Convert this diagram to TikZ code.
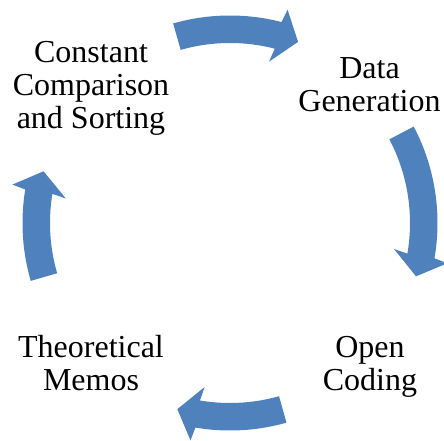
\documentclass[tikz,border=0pt]{standalone}
\usepackage{fontspec}
\setmainfont{Liberation Serif}
\definecolor{arrowblue}{RGB}{79,129,189}
\begin{document}
\begin{tikzpicture}[x=1pt,y=1pt,
  lbl/.style={align=center,inner sep=0pt,font=\fontsize{32}{33}\selectfont,text=black},
  cyclearrow/.style={fill=arrowblue,draw=none}]
\useasboundingbox (0,0) rectangle (444,440);
% labels
\node[lbl] (dg) at (369.5,355.3) {Data\\Generation};
\node[lbl] (oc) at (370,73) {Open\\Coding};
\node[lbl] (tm) at (91,76.5) {Theoretical\\Memos};
\node[lbl] (cc) at (91,351.4) {Constant\\Comparison\\and Sorting};
% curved arrows around centre (230,217)
\begin{scope}[shift={(230,217)}]
  \foreach \a/\t in {105.9/69.4, 27.7/-16, -74.2/-105.8, 196.2/164.5}{
    \pgfmathsetmacro{\hb}{\t+6.2}
    \pgfmathsetmacro{\ob}{\t+5.5}
    \pgfmathsetmacro{\ib}{\t+7}
    \path[cyclearrow] plot[domain=\a:\hb, samples=40] (\x:207.5)
      -- (\ob:221) -- (\t:193.5) -- (\ib:166) -- (\hb:180)
      -- plot[domain=\hb:\a, samples=40] (\x:180) -- cycle;
  }
\end{scope}
\end{tikzpicture}
\end{document}
